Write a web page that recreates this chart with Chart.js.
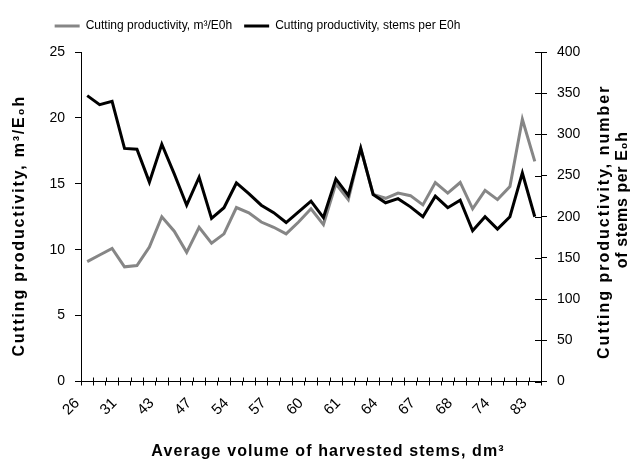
<!DOCTYPE html>
<html>
<head>
<meta charset="utf-8">
<script src="https://cdn.jsdelivr.net/npm/chart.js@4/dist/chart.umd.min.js"></script>
<style>
  html, body { margin: 0; padding: 0; background: #fff; }
  #wrap { width: 631px; height: 461px; }
</style>
</head>
<body>
<div id="wrap"><canvas id="c" width="631" height="461"></canvas></div>
<script>
// Tick labels shown on the category axis (every third stem-volume class, dm³)
const tickLabels = ['26', '31', '43', '47', '54', '57', '60', '61', '64', '67', '68', '74', '83'];
const labelStep = 3;
const classCount = 37;

// Cutting productivity, m³ per E0h (left axis)
const volumeM3 = [9.1, 9.6, 10.1, 8.7, 8.8, 10.2, 12.5, 11.4, 9.8, 11.7,
                  10.5, 11.2, 13.2, 12.8, 12.1, 11.7, 11.2, 12.1, 13.1, 11.9,
                  15.0, 13.8, 17.7, 14.2, 13.9, 14.3, 14.1, 13.4, 15.1, 14.3,
                  15.1, 13.1, 14.5, 13.8, 14.8, 19.9, 16.7];

// Cutting productivity, stems per E0h (right axis)
const stemsPerHour = [347, 336, 340, 283, 282, 242, 288, 252, 214, 248,
                      198, 211, 241, 228, 214, 205, 193, 206, 219, 199,
                      246, 226, 283, 227, 217, 222, 212, 200, 225, 211,
                      220, 183, 200, 185, 200, 253, 200];

// Axis titles
const xTitle = 'Average volume of harvested stems, dm³';
const leftTitle = 'Cutting productivity, m³/E\u2080h';
const rightTitleLines = ['Cutting productivity, number', 'of stems per E\u2080h'];

const categories = Array.from({ length: classCount }, (_, i) =>
  i % labelStep === 0 ? tickLabels[i / labelStep] : '');

const FONT = "'Liberation Sans', Arial, sans-serif";
const TITLE_FONT = 'bold 16px ' + FONT;

// Ticks that cross the x axis and the right axis (inner half)
const crossTicks = {
  id: 'crossTicks',
  afterDraw(chart) {
    const ctx = chart.ctx;
    const xs = chart.scales.x;
    const y1 = chart.scales.y1;
    const area = chart.chartArea;
    ctx.save();
    ctx.strokeStyle = '#000';
    ctx.lineWidth = 1;
    ctx.beginPath();
    const step = xs.getPixelForValue(1) - xs.getPixelForValue(0);
    for (let i = 0; i <= classCount; i++) {
      const x = Math.round(xs.getPixelForValue(0) - step / 2 + i * step) + 0.5;
      ctx.moveTo(x, area.bottom - 4);
      ctx.lineTo(x, area.bottom);
    }
    y1.ticks.forEach(t => {
      const y = Math.round(y1.getPixelForValue(t.value)) + 0.5;
      ctx.moveTo(area.right - 6, y);
      ctx.lineTo(area.right, y);
    });
    ctx.stroke();
    ctx.restore();
  }
};

function drawTitle(ctx, text, x, y, angle, spacing) {
  ctx.save();
  ctx.translate(x, y);
  ctx.rotate(angle);
  ctx.font = TITLE_FONT;
  ctx.fillStyle = '#000';
  ctx.textAlign = 'center';
  ctx.textBaseline = 'middle';
  if ('letterSpacing' in ctx) ctx.letterSpacing = spacing + 'px';
  ctx.fillText(text, 0, 0);
  ctx.restore();
}

// Axis titles; both vertical titles read bottom-to-top
const axisTitles = {
  id: 'axisTitles',
  afterDraw(chart) {
    const ctx = chart.ctx;
    const area = chart.chartArea;
    const midY = (area.top + area.bottom) / 2;
    const midX = (area.left + area.right) / 2;
    drawTitle(ctx, xTitle, midX + 17, chart.height - 9, 0, 1.1);
    drawTitle(ctx, leftTitle, chart.scales.y.left + 20, midY + 9, -Math.PI / 2, 1.8);
    const r = chart.scales.y1.right;
    drawTitle(ctx, rightTitleLines[0], r - 26, midY + 5, -Math.PI / 2, 2.0);
    drawTitle(ctx, rightTitleLines[1], r - 8, midY - 17, -Math.PI / 2, 0.6);
  }
};

// Fixed legend band height, legend row placed left of centre
const legendBand = {
  id: 'legendBand',
  beforeInit(chart) {
    const fit = chart.legend.fit;
    chart.legend.fit = function () {
      fit.call(this);
      this.height = 52;
    };
  },
  afterLayout(chart) {
    const lg = chart.legend;
    lg.left -= 58;
    lg.right -= 58;
    lg.top += 8;
  }
};

new Chart(document.getElementById('c'), {
  type: 'line',
  data: {
    labels: categories,
    datasets: [
      {
        label: 'Cutting productivity, m³/E0h',
        data: volumeM3,
        yAxisID: 'y',
        borderColor: '#868686',
        backgroundColor: '#868686',
        borderWidth: 3,
        pointRadius: 0,
        tension: 0,
        order: 2
      },
      {
        label: 'Cutting productivity, stems per E0h',
        data: stemsPerHour,
        yAxisID: 'y1',
        borderColor: '#000000',
        backgroundColor: '#000000',
        borderWidth: 3,
        pointRadius: 0,
        tension: 0,
        order: 1
      }
    ]
  },
  options: {
    responsive: false,
    animation: false,
    layout: { padding: 0 },
    plugins: {
      tooltip: { enabled: false },
      legend: {
        position: 'top',
        align: 'center',
        labels: {
          font: { family: FONT, size: 12 },
          color: '#000',
          boxWidth: 25,
          boxHeight: 3,
          padding: 12,
          sort: (a, b) => a.datasetIndex - b.datasetIndex,
          generateLabels(chart) {
            const items = Chart.defaults.plugins.legend.labels.generateLabels(chart);
            items.forEach(it => { it.fillStyle = it.strokeStyle; it.lineWidth = 0; });
            return items;
          }
        }
      }
    },
    scales: {
      x: {
        type: 'category',
        offset: true,
        afterFit(scale) { scale.height = 79.5; },
        border: { color: '#000', width: 1 },
        grid: { offset: true, drawOnChartArea: false, drawTicks: true, tickLength: 4, color: '#000' },
        ticks: {
          autoSkip: false,
          maxRotation: 45,
          minRotation: 45,
          padding: 9,
          labelOffset: -10,
          color: '#000',
          font: { family: FONT, size: 15 }
        }
      },
      y: {
        position: 'left',
        min: 0,
        max: 25,
        afterFit(scale) { scale.width = 81; },
        border: { color: '#000', width: 1 },
        grid: { drawOnChartArea: false, drawTicks: true, tickLength: 6, color: '#000' },
        ticks: {
          stepSize: 5,
          padding: 10,
          color: '#000',
          font: { family: FONT, size: 14 }
        }
      },
      y1: {
        position: 'right',
        min: 0,
        max: 400,
        afterFit(scale) { scale.width = 90; },
        border: { color: '#000', width: 1 },
        grid: { drawOnChartArea: false, drawTicks: true, tickLength: 6, color: '#000' },
        ticks: {
          stepSize: 50,
          padding: 10,
          color: '#000',
          font: { family: FONT, size: 14 }
        }
      }
    }
  },
  plugins: [legendBand, crossTicks, axisTitles]
});
</script>
</body>
</html>
